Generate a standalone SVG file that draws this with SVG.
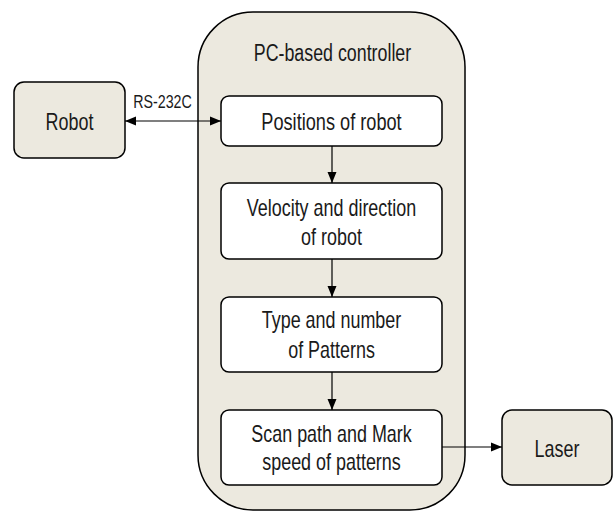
<svg xmlns="http://www.w3.org/2000/svg" width="613" height="512" viewBox="0 0 613 512">
<defs>
<marker id="ah" viewBox="0 0 11 10" refX="11" refY="5" markerWidth="11" markerHeight="10" markerUnits="userSpaceOnUse" orient="auto-start-reverse">
<path d="M0,0.5 L11,5 L0,9.5 Z" fill="#000"/>
</marker>
<style>
.outer{fill:#ece9df;stroke:#000;stroke-width:1.5}
.box{fill:#fff;stroke:#000;stroke-width:1.5}
.ext{fill:#ece9df;stroke:#000;stroke-width:1.5}
text{font-family:"Liberation Sans",Arial,sans-serif;font-size:23px;fill:#1a1a1a;text-anchor:middle}
.small{font-size:19px}
.conn{stroke:#000;stroke-width:1.2;fill:none}
</style>
</defs>
<g id="controller">
<rect class="outer" x="198" y="12" width="267" height="498" rx="55" ry="55"/>
<text transform="translate(332.5 61) scale(0.775 1)">PC-based controller</text>
</g>
<g id="robot">
<rect class="ext" x="14" y="82" width="111" height="76" rx="10" ry="10"/>
<text transform="translate(69.5 130) scale(0.78 1)">Robot</text>
</g>
<g id="laser">
<rect class="ext" x="502" y="410" width="110" height="75" rx="10" ry="10"/>
<text transform="translate(557 457) scale(0.78 1)">Laser</text>
</g>
<g id="positions">
<rect class="box" x="221" y="96" width="221" height="50" rx="8" ry="8"/>
<text transform="translate(331.5 129.5) scale(0.79 1)">Positions of robot</text>
</g>
<g id="velocity">
<rect class="box" x="221" y="183" width="221" height="76" rx="8" ry="8"/>
<text transform="translate(331.5 216) scale(0.78 1)">Velocity and direction</text>
<text transform="translate(331.5 245) scale(0.78 1)">of robot</text>
</g>
<g id="type">
<rect class="box" x="221" y="297" width="221" height="75" rx="8" ry="8"/>
<text transform="translate(331.5 328) scale(0.78 1)">Type and number</text>
<text transform="translate(331.5 358) scale(0.78 1)">of Patterns</text>
</g>
<g id="scan">
<rect class="box" x="221" y="410" width="221" height="75" rx="8" ry="8"/>
<text transform="translate(331.5 442) scale(0.78 1)">Scan path and Mark</text>
<text transform="translate(331.5 470) scale(0.78 1)">speed of patterns</text>
</g>
<g id="connectors">
<line class="conn" x1="125" y1="121" x2="221" y2="121" marker-start="url(#ah)" marker-end="url(#ah)"/>
<text class="small" transform="translate(162.5 108) scale(0.75 1)">RS-232C</text>
<line class="conn" x1="332" y1="146" x2="332" y2="183" marker-end="url(#ah)"/>
<line class="conn" x1="332" y1="259" x2="332" y2="297" marker-end="url(#ah)"/>
<line class="conn" x1="332" y1="372" x2="332" y2="410" marker-end="url(#ah)"/>
<line class="conn" x1="442" y1="447" x2="502" y2="447" marker-end="url(#ah)"/>
</g>
</svg>
